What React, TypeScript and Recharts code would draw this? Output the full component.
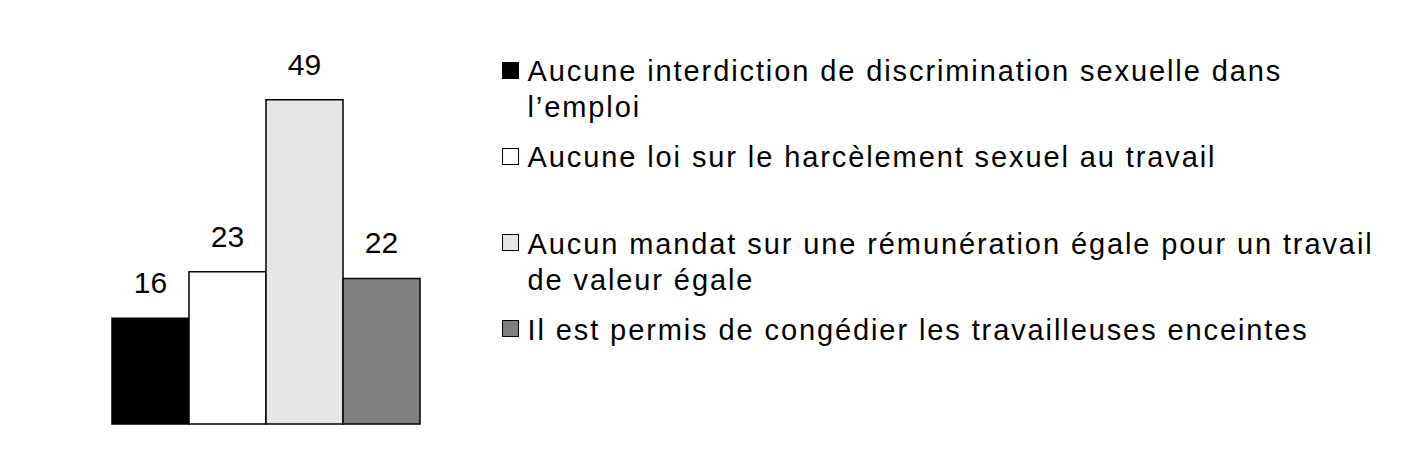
import { BarChart, Bar, XAxis, YAxis, Cell, LabelList } from 'recharts';

const categories = [
    'Aucune interdiction de discrimination sexuelle dans\nl’emploi',
    'Aucune loi sur le harcèlement sexuel au travail',
    'Aucun mandat sur une rémunération égale pour un travail\nde valeur égale',
    'Il est permis de congédier les travailleuses enceintes',
];
const values = [16, 23, 49, 22];
const colors = ['#000000', '#ffffff', '#e6e6e6', '#808080'];

const data = categories.map((name, i) => ({ name, value: values[i] }));

const FONT = '"Liberation Sans", Arial, sans-serif';

export default function App() {
    return (
        <div style={{ position: 'relative', width: 1387, height: 435, fontFamily: FONT }}>
            <BarChart
                width={1387}
                height={435}
                data={data}
                margin={{ top: 19, right: 975, bottom: 19, left: 104 }}
                barCategoryGap={0}
            >
                <XAxis dataKey="name" hide />
                <YAxis hide domain={[0, 60]} />
                <Bar dataKey="value" stroke="#000" strokeWidth={1.5} isAnimationActive={false}>
                    {data.map((d, i) => (
                        <Cell key={d.name} fill={colors[i]} />
                    ))}
                    <LabelList
                        dataKey="value"
                        position="top"
                        offset={25}
                        style={{ fontSize: 30, fill: '#000', fontFamily: FONT }}
                    />
                </Bar>
            </BarChart>

            {/* legend, one slot per series */}
            <div style={{ position: 'absolute', left: 493.5, top: 45 }}>
                {data.map((d, i) => (
                    <div key={d.name} style={{ display: 'flex', alignItems: 'flex-start', height: 86.3 }}>
                        <div
                            style={{
                                boxSizing: 'border-box',
                                width: 17,
                                height: 17,
                                marginTop: 8.5,
                                marginRight: 9,
                                background: colors[i],
                                border: '1.5px solid #000',
                                flexShrink: 0,
                            }}
                        />
                        <div
                            style={{
                                fontSize: 29,
                                lineHeight: '36px',
                                letterSpacing: 1.9,
                                whiteSpace: 'pre-line',
                                color: '#000',
                            }}
                        >
                            {d.name}
                        </div>
                    </div>
                ))}
            </div>
        </div>
    );
}
